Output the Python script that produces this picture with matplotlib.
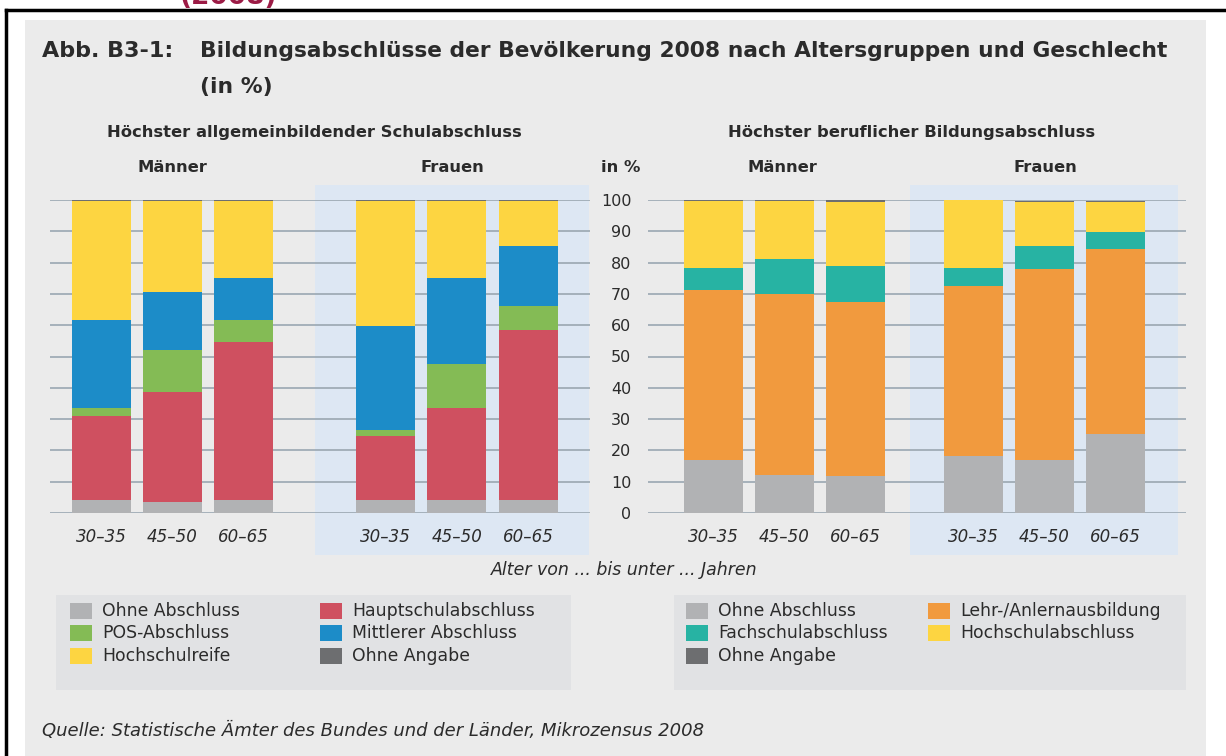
import numpy as np
import matplotlib
matplotlib.use('Agg')
import matplotlib.pyplot as plt
from matplotlib.patches import Rectangle
from matplotlib.lines import Line2D

plt.rcParams['font.family'] = ['DejaVu Sans']

# Daten (in %)
alter = ['30–35', '45–50', '60–65']

# Höchster allgemeinbildender Schulabschluss
schul_kat = ['Ohne Abschluss', 'Hauptschulabschluss', 'POS-Abschluss',
             'Mittlerer Abschluss', 'Hochschulreife', 'Ohne Angabe']
schul_m = [[4.0, 3.4, 4.0],
           [26.9, 35.3, 50.7],
           [2.6, 13.4, 7.0],
           [28.2, 18.6, 13.5],
           [37.9, 28.9, 24.4],
           [0.4, 0.4, 0.4]]
schul_f = [[4.0, 4.0, 4.0],
           [20.5, 29.5, 54.5],
           [1.9, 14.1, 7.7],
           [33.4, 27.6, 19.1],
           [39.8, 24.4, 14.3],
           [0.4, 0.4, 0.4]]

# Höchster beruflicher Bildungsabschluss
beruf_kat = ['Ohne Abschluss', 'Lehr-/Anlernausbildung', 'Fachschulabschluss',
             'Hochschulabschluss', 'Ohne Angabe']
beruf_m = [[16.8, 12.3, 11.7],
           [54.5, 57.6, 55.7],
           [7.1, 11.1, 11.6],
           [21.4, 18.8, 20.4],
           [0.2, 0.2, 0.6]]
beruf_f = [[18.1, 16.8, 25.1],
           [54.5, 61.0, 59.1],
           [5.7, 7.5, 5.7],
           [21.7, 14.2, 9.6],
           [0.7, 0.2, 0.2]]

farben_schul = ['#b1b2b4', '#cf5060', '#84bb55', '#1c8cc8', '#fdd541', '#6d6e70']
farben_beruf = ['#b1b2b4', '#f19a3e', '#27b3a3', '#fdd541', '#6d6e70']

W, H = 1226, 756
fig = plt.figure(figsize=(W / 100, H / 100), dpi=100, facecolor='white')


def fx(x):
    return x / W


def fy(y):
    return 1 - y / H


def rect(x0, y0, x1, y1):
    return [fx(x0), fy(y1), fx(x1) - fx(x0), fy(y0) - fy(y1)]


# Rahmen und Hintergrund
fig.patches.append(Rectangle((fx(25), 0), fx(1206) - fx(25), fy(20), transform=fig.transFigure,
                             facecolor='#ebebeb', edgecolor='none', zorder=-5))
fig.lines.append(Line2D([fx(6), fx(6)], [0, fy(10)], transform=fig.transFigure,
                        color='black', lw=2.5))
fig.lines.append(Line2D([fx(6), 1], [fy(10), fy(10)], transform=fig.transFigure,
                        color='black', lw=2.5))
fig.text(fx(228), fy(4), '(2008)', color='#9b1b45', fontsize=19, fontweight='bold',
         ha='center', va='baseline')

textfarbe = '#2b2b2b'
gridfarbe = '#a0acb6'
frauen_bg = '#dde7f3'

# Titel
fig.text(fx(42), fy(51), 'Abb. B3-1:', fontsize=16, fontweight='bold', color=textfarbe,
         va='center')
fig.text(fx(200), fy(51), 'Bildungsabschlüsse der Bevölkerung 2008 nach Altersgruppen und Geschlecht',
         fontsize=15.7, fontweight='bold', color=textfarbe, va='center')
fig.text(fx(200), fy(87), '(in %)', fontsize=15.7, fontweight='bold', color=textfarbe, va='center')


def panel(box, pos_m, pos_f, xlim, span, werte_m, werte_f, farben, ylabels):
    ax = fig.add_axes(rect(*box))
    ax.set_facecolor('none')
    ax.set_xlim(*xlim)
    ax.set_ylim(0, 100)
    ax.axvspan(span[0], span[1], ymin=-0.134, ymax=1.048, color=frauen_bg,
               clip_on=False, zorder=0.1, lw=0)
    for pos, werte in [(pos_m, werte_m), (pos_f, werte_f)]:
        unten = np.zeros(3)
        for wert, farbe in zip(werte, farben):
            ax.bar(pos, wert, bottom=unten, width=0.83, color=farbe, lw=0, zorder=2)
            unten += np.array(wert)
    ax.set_yticks(np.arange(0, 101, 10))
    ax.yaxis.grid(True, color=gridfarbe, lw=1.3, zorder=1)
    ax.set_axisbelow(True)
    ax.set_xticks(list(pos_m) + list(pos_f), alter * 2)
    for lab in ax.get_xticklabels():
        lab.set_fontstyle('italic')
        lab.set_fontsize(12)
        lab.set_color(textfarbe)
    ax.tick_params(axis='both', length=0)
    ax.tick_params(axis='x', pad=11)
    if ylabels:
        ax.tick_params(axis='y', pad=12, labelsize=11.5, labelcolor=textfarbe)
    else:
        ax.set_yticklabels([])
    for s in ax.spines.values():
        s.set_visible(False)
    return ax


panel((50, 200, 590, 513), [0, 1, 2], [4, 5, 6], (-0.72, 6.87), (3.01, 6.86),
      schul_m, schul_f, farben_schul, False)
panel((648, 200, 1186, 513), [0, 1, 2], [3.66, 4.66, 5.66], (-0.92, 6.65), (2.77, 6.54),
      beruf_m, beruf_f, farben_beruf, True)

# Überschriften
kw = dict(fontsize=11.8, fontweight='bold', color=textfarbe, ha='center', va='center')
fig.text(fx(314), fy(133), 'Höchster allgemeinbildender Schulabschluss', **kw)
fig.text(fx(912), fy(133), 'Höchster beruflicher Bildungsabschluss', **kw)
fig.text(fx(172), fy(168), 'Männer', **kw)
fig.text(fx(452), fy(168), 'Frauen', **kw)
fig.text(fx(782), fy(168), 'Männer', **kw)
fig.text(fx(1045), fy(168), 'Frauen', **kw)
fig.text(fx(621), fy(168), 'in %', **kw)

fig.text(fx(624), fy(570), 'Alter von ... bis unter ... Jahren', fontsize=12.5, fontstyle='italic',
         color=textfarbe, ha='center', va='center')


# Legenden
def legende(box, spalten, kat, farben):
    x0, y0, x1, y1 = box
    fig.patches.append(Rectangle((fx(x0), fy(y1)), fx(x1) - fx(x0), fy(y0) - fy(y1),
                                 transform=fig.transFigure, facecolor='#e1e2e4',
                                 edgecolor='none', zorder=0.5))
    zeilen_y = [611, 633, 656]
    for (sx, eintraege) in spalten:
        for zy, i in zip(zeilen_y, eintraege):
            fig.patches.append(Rectangle((fx(sx), fy(zy + 8)), fx(22), 16 / H,
                                         transform=fig.transFigure, facecolor=farben[i],
                                         edgecolor='none', zorder=1))
            fig.text(fx(sx + 32), fy(zy), kat[i], fontsize=12.4, color=textfarbe,
                     va='center', ha='left')


legende((56, 595, 571, 690), [(70, [0, 2, 4]), (320, [1, 3, 5])], schul_kat, farben_schul)
legende((674, 595, 1186, 690), [(686, [0, 2, 4]), (928, [1, 3])], beruf_kat, farben_beruf)

fig.text(fx(42), fy(731), 'Quelle: Statistische Ämter des Bundes und der Länder, Mikrozensus 2008',
         fontsize=13, fontstyle='italic', color=textfarbe, va='center')

fig.savefig('out.png', dpi=100, facecolor='white')
